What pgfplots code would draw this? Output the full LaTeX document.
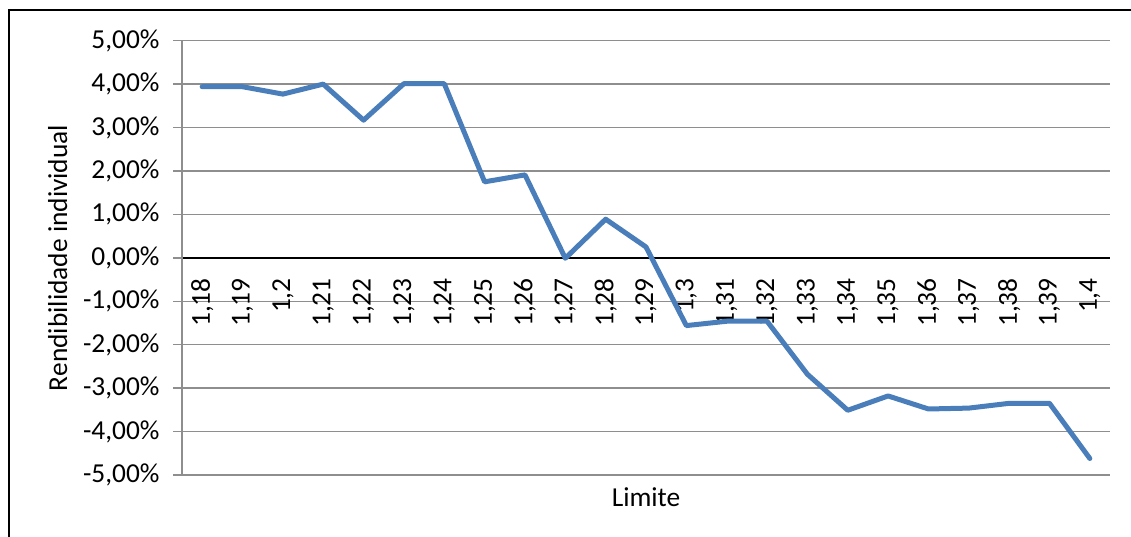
\documentclass[border=0pt]{standalone}
\usepackage{fontspec}
\setmainfont{Carlito}
\usepackage{pgfplots}
\pgfplotsset{compat=1.18}
\definecolor{lineblue}{HTML}{4A7EBB}
\definecolor{gridgray}{HTML}{8E8E8E}
\begin{document}
\begin{tikzpicture}[x=1bp,y=1bp]
\useasboundingbox (0,0) rectangle (1131,537);
\draw[line width=2bp] (9,-5) -- (9,527) -- (1140,527);
\begin{axis}[
  at={(182bp,62bp)}, anchor=south west,
  scale only axis, width=928bp, height=434.3bp,
  xmin=-0.5, xmax=22.5, ymin=-5, ymax=5,
  axis x line*=middle, axis y line*=left,
  x axis line style={black, line width=1.5bp},
  y axis line style={gridgray, line width=1.5bp},
  ytick={-5,-4,...,5},
  yticklabels={{-5,00\%},{-4,00\%},{-3,00\%},{-2,00\%},{-1,00\%},{0,00\%},{1,00\%},{2,00\%},{3,00\%},{4,00\%},{5,00\%}},
  xtick={0,...,22},
  xticklabels={{1,18},{1,19},{1,2},{1,21},{1,22},{1,23},{1,24},{1,25},{1,26},{1,27},{1,28},{1,29},{1,3},{1,31},{1,32},{1,33},{1,34},{1,35},{1,36},{1,37},{1,38},{1,39},{1,4}},
  ymajorgrids,
  grid style={gridgray, line width=1.5bp},
  tick align=outside,
  major tick length=9bp,
  ytick style={gridgray, line width=1.5bp},
  xtick style={draw=none},
  tick label style={font=\fontsize{27.5}{33}\selectfont},
  xticklabel style={rotate=90, anchor=east, xshift=-8bp},
  yticklabel style={anchor=east, xshift=-10bp},
  every axis x label/.style={at={(axis description cs:0.5,-0.052)}, anchor=center, font=\fontsize{27.5}{33}\selectfont},
  every axis y label/.style={at={(axis description cs:-0.134,0.5)}, anchor=center, rotate=90, font=\fontsize{27.5}{33}\selectfont},
  xlabel={Limite},
  ylabel={Rendibilidade individual},
  clip=false,
]
\addplot[lineblue, line width=5bp, line join=round, line cap=round] coordinates {
(0,3.94) (1,3.94) (2,3.77) (3,4.00) (4,3.17) (5,4.01) (6,4.01)
(7,1.75) (8,1.91) (9,-0.01) (10,0.89) (11,0.25) (12,-1.56) (13,-1.46)
(14,-1.46) (15,-2.68) (16,-3.51) (17,-3.18) (18,-3.48) (19,-3.46)
(20,-3.35) (21,-3.35) (22,-4.62)
};
\end{axis}
\end{tikzpicture}
\end{document}
